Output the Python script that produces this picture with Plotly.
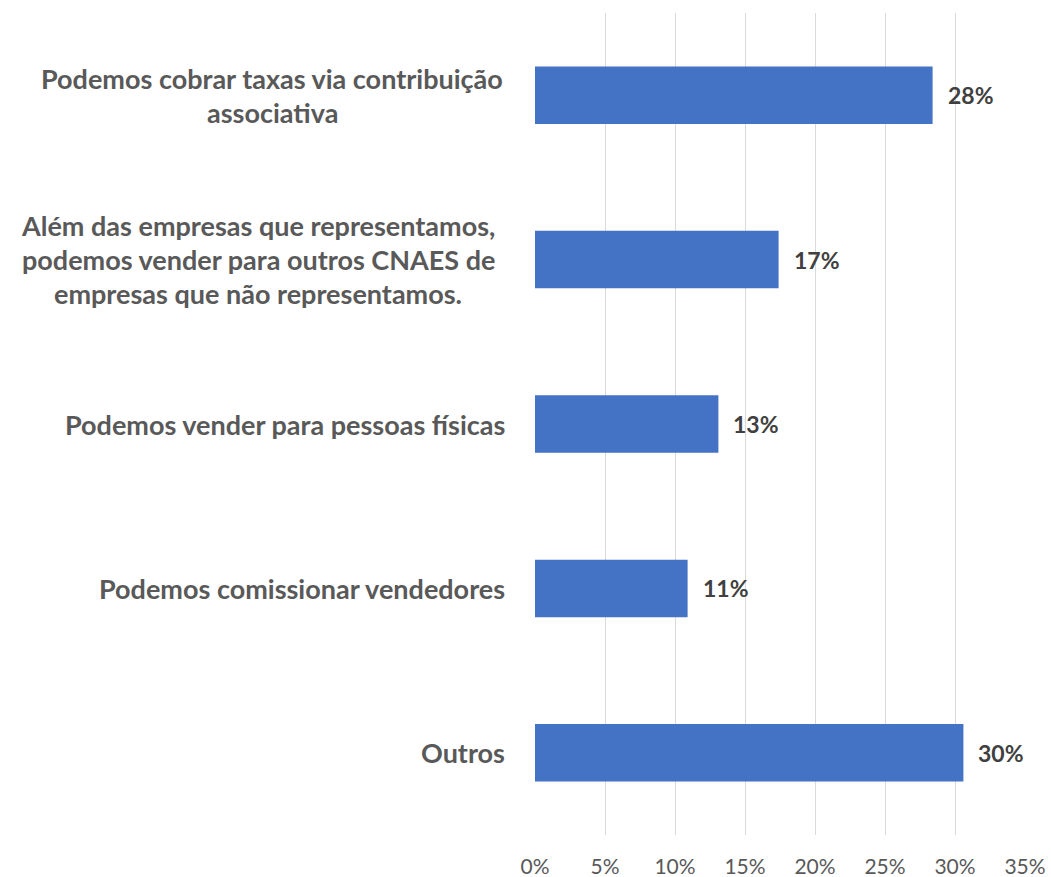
import plotly.graph_objects as go

categories = [
    ["Podemos cobrar taxas via contribuição", "associativa"],
    ["Além das empresas que representamos,", "podemos vender para outros CNAES de", "empresas que não representamos."],
    ["Podemos vender para pessoas físicas"],
    ["Podemos comissionar vendedores"],
    ["Outros"],
]
values = [28.4, 17.4, 13.1, 10.9, 30.6]
value_labels = ["28%", "17%", "13%", "11%", "30%"]
tick_vals = [0, 5, 10, 15, 20, 25, 30, 35]
tick_text = ["0%", "5%", "10%", "15%", "20%", "25%", "30%", "35%"]

# layout-only: horizontal centre offsets (px from plot left) for multi-line labels
label_centres = [-263, -277, None, None, None]

cat_ids = [f"c{i}" for i in range(len(categories))]

fig = go.Figure()
fig.add_trace(go.Bar(
    y=cat_ids, x=values, orientation="h",
    marker=dict(color="#4472C4", line=dict(width=0)),
    width=0.35, hoverinfo="skip",
))

FONT = "Lato"
annotations = []
line_h = 34
for cid, lines, cx in zip(cat_ids, categories, label_centres):
    n = len(lines)
    for j, ln in enumerate(lines):
        off = ((n - 1) / 2 - j) * line_h
        if cx is None:
            anchor, shift = "right", -28
        else:
            anchor, shift = "center", cx
        annotations.append(dict(
            x=0, xref="paper", y=cid, yref="y", text=ln, showarrow=False,
            xanchor=anchor, yanchor="middle", xshift=shift, yshift=off,
            font=dict(family=FONT, size=27, color="#595959", weight="bold"),
        ))
for cid, v, lab in zip(cat_ids, values, value_labels):
    annotations.append(dict(
        x=v, xref="x", y=cid, yref="y", text=lab, showarrow=False,
        xanchor="left", yanchor="middle", xshift=13,
        font=dict(family=FONT, size=23, color="#404040", weight="bold"),
    ))

fig.update_layout(
    width=1051, height=877,
    margin=dict(l=535, r=26, t=13, b=42),
    paper_bgcolor="white", plot_bgcolor="white",
    showlegend=False,
    annotations=annotations,
    bargap=0.65,
)
fig.update_xaxes(
    range=[0, 35], tickvals=tick_vals, ticktext=tick_text,
    showgrid=True, gridcolor="#d9d9d9", gridwidth=1,
    zeroline=False, showline=False, automargin=False,
    tickfont=dict(family=FONT, size=21, color="#595959"),
    ticks="", ticklabelstandoff=17,
)
fig.update_yaxes(
    categoryorder="array", categoryarray=cat_ids[::-1], automargin=False,
    showticklabels=False, showgrid=False, zeroline=False, showline=False,
)
fig.write_html(
    "out.html",
    config={"displayModeBar": False, "staticPlot": True},
    post_script="document.body.style.margin='0';document.body.style.overflow='hidden';",
)
